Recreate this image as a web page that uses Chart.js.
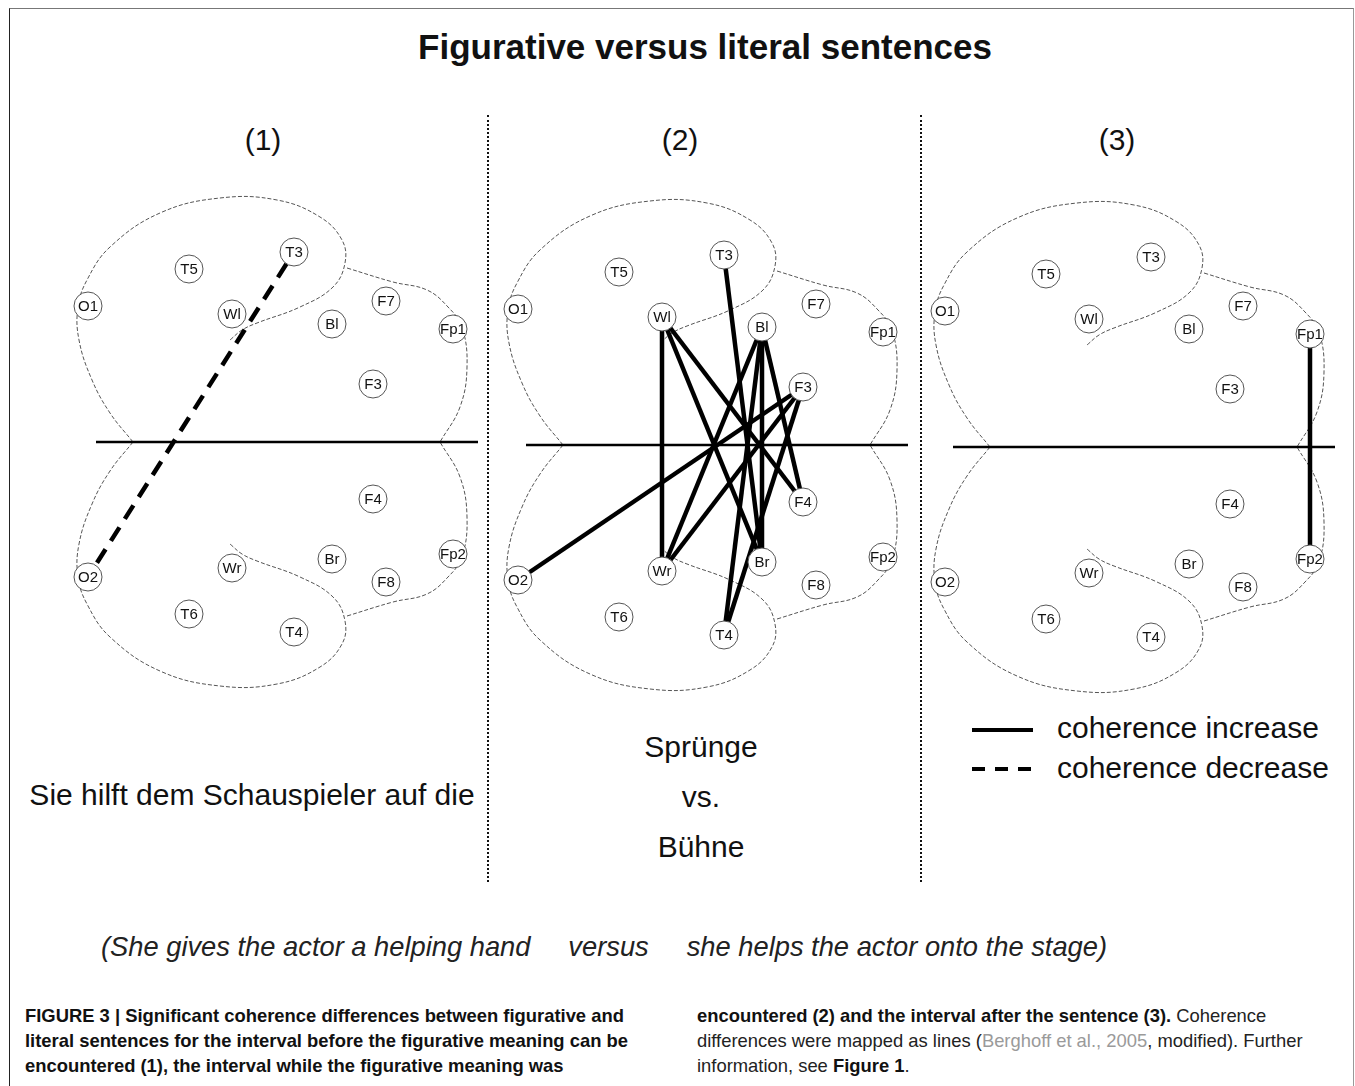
<!DOCTYPE html>
<html>
<head>
<meta charset="utf-8">
<script src="https://cdn.jsdelivr.net/npm/chart.js@4.4.0/dist/chart.umd.min.js"></script>
<style>
  body { margin: 0; background: #fff; width: 1355px; height: 1086px; overflow: hidden; position: relative;
         font-family: "Liberation Sans", Arial, sans-serif; color: #111; }
  #frame { position: absolute; left: 9px; top: 8px; width: 1343px; height: 1100px;
           border-top: 1px solid #777; border-left: 1px solid #222; border-right: 1px solid #999; }
  .t { position: absolute; white-space: nowrap; transform: translate(-50%, -50%); }
  .big { font-size: 30px; }
  .sep { position: absolute; top: 115px; height: 767px; border-left: 2px dotted #111; }
  canvas { position: absolute; }
  .cap { position: absolute; font-size: 18.4px; line-height: 25px; white-space: nowrap; color: #222; }
  .cap b { color: #111; }
  .ref { color: #9a9a9a; }
  .legline { position: absolute; left: 972px; width: 61px; height: 4px; }
</style>
</head>
<body>
<div id="frame"></div>
<div class="t" style="left:705px;top:47px;font-size:35px;font-weight:bold;">Figurative versus literal sentences</div>

<div class="sep" style="left:487px"></div>
<div class="sep" style="left:920px"></div>

<div id="panelTitles"></div>

<canvas id="brain1" width="420" height="520" style="left:60px;top:180px"></canvas>
<canvas id="brain2" width="420" height="520" style="left:490px;top:183px"></canvas>
<canvas id="brain3" width="420" height="520" style="left:917px;top:185px"></canvas>

<div class="t big" style="left:252px;top:795px;">Sie hilft dem Schauspieler auf die</div>
<div class="t big" style="left:701px;top:747px;">Sprünge</div>
<div class="t big" style="left:701px;top:797px;">vs.</div>
<div class="t big" style="left:701px;top:847px;">Bühne</div>

<div class="legline" style="top:728px;background:#000;"></div>
<div class="legline" style="top:767px;background:repeating-linear-gradient(90deg,#000 0 13px,transparent 13px 23px);"></div>
<div class="big" style="position:absolute;left:1057px;top:711px;white-space:nowrap;">coherence increase</div>
<div class="big" style="position:absolute;left:1057px;top:751px;white-space:nowrap;">coherence decrease</div>

<div class="t" style="left:604px;top:947px;font-size:27.3px;font-style:italic;color:#222;">(She gives the actor a helping hand&nbsp;&nbsp;&nbsp;&nbsp; versus &nbsp;&nbsp;&nbsp;&nbsp;she helps the actor onto the stage)</div>

<div class="cap" style="left:25px;top:1003px;"><b>FIGURE 3 | Significant coherence differences between figurative and<br>literal sentences for the interval before the figurative meaning can be<br>encountered (1), the interval while the figurative meaning was</b></div>
<div class="cap" style="left:697px;top:1003px;"><b>encountered (2) and the interval after the sentence (3).</b> Coherence<br>differences were mapped as lines (<span class="ref">Berghoff et al., 2005</span>, modified). Further<br>information, see <b>Figure 1</b>.</div>

<script>
// electrode positions (same map in all three panels), x = back->front, y = up (left hemisphere) / down (right)
const electrodeNames = ['O1', 'T5', 'T3', 'Wl', 'Bl', 'F7', 'Fp1', 'F3', 'F4', 'Fp2', 'Br', 'F8', 'Wr', 'O2', 'T6', 'T4'];
const electrodeX = [0, 101, 206, 144, 244, 298, 365, 285, 285, 365, 244, 298, 144, 0, 101, 206];
const electrodeY = [136, 173, 190, 128, 118, 141, 113, 58, -57, -112, -117, -140, -126, -135, -172, -190];

// brain outline (upper hemisphere, lower one is its mirror)
const temporalOutline = [[45, 0], [22, 29], [4, 62], [-9, 102], [-10, 135], [-1, 162], [22, 195], [72, 229],
  [132, 244], [189, 242], [232, 225], [254, 202], [257, 179], [245, 155], [212, 135], [169, 119], [154, 112], [142, 102]];
const frontalOutline = [[259, 174], [305, 160], [339, 152], [360, 135], [374, 115], [379, 75], [372, 35], [352, 0]];
const midline = [[8, 0], [390, 0]];

const panelLabels = ['(1)', '(2)', '(3)'];
const panelLabelX = [263, 680, 1117];

// significant coherence differences per panel
const increases = [
  [],
  [['Wl', 'Wr'], ['Wl', 'Br'], ['Wl', 'F4'], ['Bl', 'Wr'], ['Bl', 'Br'], ['Bl', 'F4'], ['Bl', 'T4'],
   ['T3', 'Br'], ['F3', 'O2'], ['F3', 'Wr'], ['F3', 'T4']],
  [['Fp1', 'Fp2']]
];
const decreases = [
  [['T3', 'O2']],
  [],
  []
];

panelLabels.forEach((lab, i) => {
  const d = document.createElement('div');
  d.className = 't big';
  d.style.left = panelLabelX[i] + 'px';
  d.style.top = '140px';
  d.textContent = lab;
  document.getElementById('panelTitles').appendChild(d);
});

const pt = (name) => {
  const i = electrodeNames.indexOf(name);
  return { x: electrodeX[i], y: electrodeY[i] };
};
const toPts = (arr) => arr.map(p => ({ x: p[0], y: p[1] }));
const mirror = (arr) => arr.map(p => ({ x: p[0], y: -p[1] }));

const electrodeLabels = {
  id: 'electrodeLabels',
  afterDatasetsDraw(chart) {
    const meta = chart.getDatasetMeta(0);
    const ctx = chart.ctx;
    ctx.save();
    ctx.font = '15px "Liberation Sans", Arial, sans-serif';
    ctx.fillStyle = '#111';
    ctx.textAlign = 'center';
    ctx.textBaseline = 'middle';
    meta.data.forEach((el, i) => {
      ctx.fillText(electrodeNames[i], el.x, el.y + 1);
    });
    ctx.restore();
  }
};

function outlineSet(points) {
  return {
    data: points, showLine: true, tension: 0.4, borderColor: '#555', borderWidth: 1,
    borderDash: [4, 2], pointRadius: 0, order: 3, fill: false
  };
}

function makeBrain(canvasId, panel) {
  const datasets = [];
  datasets.push({
    label: 'electrodes',
    data: electrodeNames.map(n => pt(n)),
    pointRadius: 14, pointBackgroundColor: '#fff', pointBorderColor: '#555', pointBorderWidth: 1,
    order: 0
  });
  increases[panel].forEach(pair => {
    datasets.push({
      data: [pt(pair[0]), pt(pair[1])], showLine: true, borderColor: '#000', borderWidth: 4.5,
      borderCapStyle: 'butt', pointRadius: 0, order: 1
    });
  });
  decreases[panel].forEach(pair => {
    datasets.push({
      data: [pt(pair[0]), pt(pair[1])], showLine: true, borderColor: '#000', borderWidth: 4.5,
      borderDash: [16, 10], borderDashOffset: -14, borderCapStyle: 'butt', pointRadius: 0, order: 1
    });
  });
  datasets.push({
    data: toPts(midline), showLine: true, borderColor: '#000', borderWidth: 2.5, pointRadius: 0, order: 2
  });
  datasets.push(outlineSet(toPts(temporalOutline)));
  datasets.push(outlineSet(mirror(temporalOutline)));
  datasets.push(outlineSet(toPts(frontalOutline)));
  datasets.push(outlineSet(mirror(frontalOutline)));

  new Chart(document.getElementById(canvasId), {
    type: 'scatter',
    data: { datasets },
    options: {
      responsive: false, animation: false, events: [], devicePixelRatio: 1,
      layout: { padding: 0, autoPadding: false },
      plugins: { legend: { display: false }, tooltip: { enabled: false } },
      scales: {
        x: { type: 'linear', min: -28, max: 392, display: false },
        y: { type: 'linear', min: -258, max: 262, display: false }
      }
    },
    plugins: [electrodeLabels]
  });
}

makeBrain('brain1', 0);
makeBrain('brain2', 1);
makeBrain('brain3', 2);
</script>
</body>
</html>
